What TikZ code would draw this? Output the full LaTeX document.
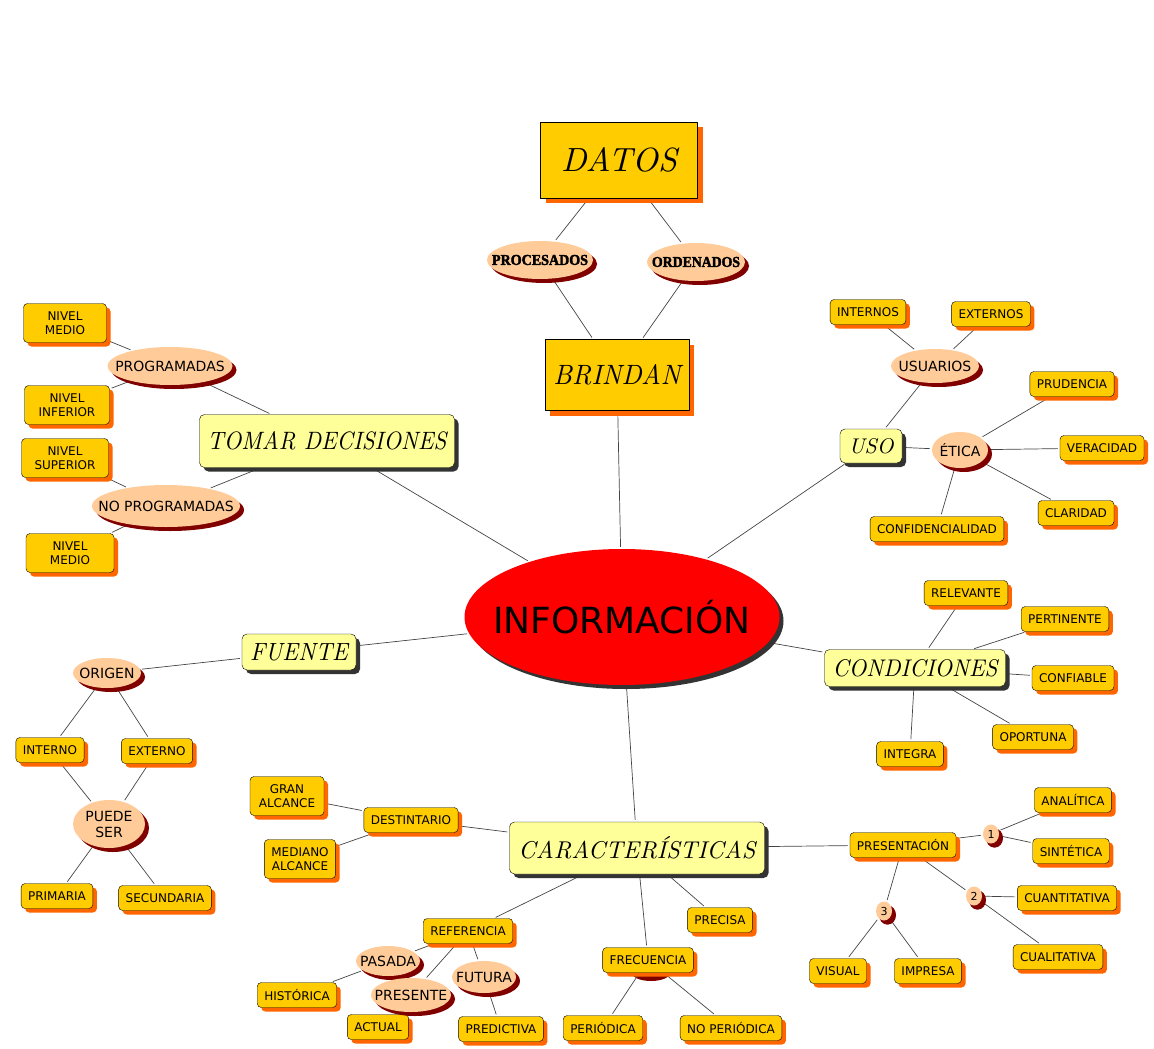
\documentclass[tikz,border=0pt]{standalone}
\usepackage{graphicx}
\usepackage{fontspec}
\newfontfamily\verdana{DejaVu Sans}
\newfontfamily\gruesa{Liberation Serif}[FakeBold=2.5]
\usetikzlibrary{shapes.geometric,shadows,backgrounds}
\definecolor{oro}{HTML}{FFCC00}
\definecolor{naranja}{HTML}{FF6600}
\definecolor{crema}{HTML}{FFFF99}
\definecolor{durazno}{HTML}{FFCC99}
\definecolor{granate}{HTML}{800000}
\definecolor{rojo}{HTML}{FF0000}
\definecolor{sombra}{HTML}{333333}
\definecolor{linea}{HTML}{444444}
\newcommand{\mano}[3]{\resizebox{#1pt}{#2pt}{\itshape #3}}
\tikzset{
  caja/.style={draw=black, fill=oro, rounded corners=4pt, align=center,
    font=\verdana\fontsize{12}{14}\selectfont, inner xsep=7pt, inner ysep=3pt,
    minimum height=25pt,
    drop shadow={shadow xshift=4pt, shadow yshift=-4pt, fill=naranja, opacity=1}},
  doble/.style={minimum height=39pt},
  cuadro/.style={draw=black, fill=oro, inner sep=0pt,
    drop shadow={shadow xshift=5pt, shadow yshift=-5pt, fill=naranja, opacity=1}},
  nota/.style={draw=black, fill=crema, rounded corners=5pt, inner sep=0pt,
    drop shadow={shadow xshift=4pt, shadow yshift=-4pt, fill=sombra, opacity=1}},
  ovalo/.style={ellipse, fill=durazno, inner xsep=-20pt, inner ysep=0pt, align=center,
    font=\verdana\fontsize{14}{16}\selectfont,
    drop shadow={shadow xshift=4pt, shadow yshift=-4pt, fill=granate, opacity=1}},
  numero/.style={ovalo, font=\verdana\fontsize{11}{12}\selectfont, minimum width=16, minimum height=19,
    drop shadow={shadow xshift=3pt, shadow yshift=-4pt, fill=granate, opacity=1}},
  enlace/.style={draw=linea, line width=0.7pt, shorten <=2pt, shorten >=2pt},
}
\begin{document}
\begin{tikzpicture}[x=1pt, y=-1pt, line join=round, line cap=round]
\useasboundingbox (0,0) rectangle (1154,1049);

% centro
\node[ellipse, fill=rojo, minimum width=315, minimum height=136, inner xsep=-60pt, inner ysep=0pt,
  font=\verdana\fontsize{36}{40}\selectfont,
  drop shadow={shadow xshift=4pt, shadow yshift=-4pt, fill=sombra, opacity=1}] (info) at (622,617) {INFORMACIÓN};

% datos
\node[cuadro, minimum width=157, minimum height=76] (datos) at (619,160) {\mano{116}{24}{DATOS}};
\node[ovalo, minimum width=106, minimum height=38] (procesados) at (540,260) {\resizebox{96pt}{10pt}{\gruesa\bfseries PROCESADOS}};
\node[ovalo, minimum width=98, minimum height=38] (ordenados) at (696,262) {\resizebox{88pt}{10pt}{\gruesa\bfseries ORDENADOS}};
\node[cuadro, minimum width=144, minimum height=71] (brindan) at (617,375) {\mano{127}{20}{BRINDAN}};

% tomar decisiones
\node[nota, minimum width=255, minimum height=53] (tomar) at (327,441) {\mano{239}{18}{TOMAR DECISIONES}};
\node[ovalo, minimum width=125, minimum height=38] (programadas) at (170,366) {PROGRAMADAS};
\node[caja, doble, minimum width=83] (medio1) at (65,323) {NIVEL\\MEDIO};
\node[caja, doble, minimum width=85] (inferior) at (67,405) {NIVEL\\INFERIOR};
\node[caja, doble, minimum width=87] (superior) at (65,458) {NIVEL\\SUPERIOR};
\node[ovalo, minimum width=148, minimum height=42] (noprog) at (166,506) {NO PROGRAMADAS};
\node[caja, doble, minimum width=88] (medio2) at (70,553) {NIVEL\\MEDIO};

% uso
\node[nota, minimum width=62, minimum height=34] (uso) at (871,446) {\mano{45}{15}{USO}};
\node[ovalo, minimum width=88, minimum height=34] (usuarios) at (935,366) {USUARIOS};
\node[caja] (internos) at (868,312) {INTERNOS};
\node[caja] (externos) at (991,314) {EXTERNOS};
\node[ovalo, minimum width=56, minimum height=36] (etica) at (960,450) {ÉTICA};
\node[caja] (prudencia) at (1072,384) {PRUDENCIA};
\node[caja] (veracidad) at (1102,448) {VERACIDAD};
\node[caja] (claridad) at (1076,513) {CLARIDAD};
\node[caja] (confid) at (937,529) {CONFIDENCIALIDAD};

% condiciones
\node[nota, minimum width=181, minimum height=37] (condiciones) at (915,668) {\mano{165}{17}{CONDICIONES}};
\node[caja] (relevante) at (966,593) {RELEVANTE};
\node[caja] (pertinente) at (1065,619) {PERTINENTE};
\node[caja] (confiable) at (1073,678) {CONFIABLE};
\node[caja] (oportuna) at (1033,737) {OPORTUNA};
\node[caja] (integra) at (910,754) {INTEGRA};

% fuente
\node[nota, minimum width=114, minimum height=36] (fuente) at (299,652) {\mano{98}{17}{FUENTE}};
\node[ovalo, minimum width=68, minimum height=30] (origen) at (107,673) {ORIGEN};
\node[caja] (interno) at (50,750) {INTERNO};
\node[caja] (externo) at (157,751) {EXTERNO};
\node[ovalo, minimum width=72, minimum height=48] (puede) at (109,824) {PUEDE\\SER};
\node[caja] (primaria) at (57,896) {PRIMARIA};
\node[caja] (secundaria) at (165,898) {SECUNDARIA};

% caracteristicas
\node[nota, minimum width=255, minimum height=52] (caract) at (637,848) {\mano{237}{22}{CARACTERÍSTICAS}};
\node[caja] (destin) at (411,820) {DESTINTARIO};
\node[caja, doble, minimum width=74] (gran) at (287,796) {GRAN\\ALCANCE};
\node[caja, doble, minimum width=69] (mediano) at (300,859) {MEDIANO\\ALCANCE};
\node[caja] (referencia) at (468,931) {REFERENCIA};
\node[ovalo, minimum width=64, minimum height=30] (pasada) at (388,961) {PASADA};
\node[ovalo, minimum width=64, minimum height=32] (futura) at (484,977) {FUTURA};
\node[caja] (actual) at (378,1027) {ACTUAL};
\node[ovalo, minimum width=80, minimum height=34] (presente) at (411,995) {PRESENTE};
\node[caja] (historica) at (297,995) {HISTÓRICA};
\node[caja] (predictiva) at (501,1029) {PREDICTIVA};
\node[caja] (frecuencia) at (648,960) {FRECUENCIA};
\node[caja] (periodica) at (603,1028) {PERIÓDICA};
\node[caja] (noperiodica) at (731,1028) {NO PERIÓDICA};
\node[caja] (precisa) at (720,920) {PRECISA};

% presentacion
\node[caja] (presentacion) at (903,845) {PRESENTACIÓN};
\node[numero] (uno) at (991,834) {1};
\node[caja] (analitica) at (1073,800) {ANALÍTICA};
\node[caja] (sintetica) at (1071,851) {SINTÉTICA};
\node[numero] (dos) at (974,896) {2};
\node[caja] (cuantitativa) at (1067,898) {CUANTITATIVA};
\node[caja] (cualitativa) at (1058,957) {CUALITATIVA};
\node[numero] (tres) at (884,911) {3};
\node[caja] (visual) at (838,971) {VISUAL};
\node[caja] (impresa) at (928,971) {IMPRESA};

\begin{scope}[on background layer]
  \fill[granate] (651,973) ellipse (19pt and 8pt);
  \foreach \a/\b in {datos/procesados, datos/ordenados, procesados/brindan, ordenados/brindan, brindan/info,
    info/tomar, tomar/programadas, tomar/noprog, programadas/medio1, programadas/inferior, noprog/superior, noprog/medio2,
    info/uso, uso/usuarios, usuarios/internos, usuarios/externos, uso/etica,
    etica/prudencia, etica/veracidad, etica/claridad, etica/confid,
    info/condiciones, condiciones/relevante, condiciones/pertinente, condiciones/confiable, condiciones/oportuna, condiciones/integra,
    info/fuente, fuente/origen, origen/interno, origen/externo, interno/puede, externo/puede, puede/primaria, puede/secundaria,
    info/caract, caract/destin, destin/gran, destin/mediano, caract/referencia,
    referencia/pasada, referencia/presente, referencia/futura, pasada/historica, presente/actual, futura/predictiva,
    caract/frecuencia, frecuencia/periodica, frecuencia/noperiodica, caract/precisa,
    caract/presentacion, presentacion/uno, uno/analitica, uno/sintetica,
    presentacion/dos, dos/cuantitativa, dos/cualitativa, presentacion/tres, tres/visual, tres/impresa}
    \draw[enlace] (\a) -- (\b);
\end{scope}
\end{tikzpicture}
\end{document}
